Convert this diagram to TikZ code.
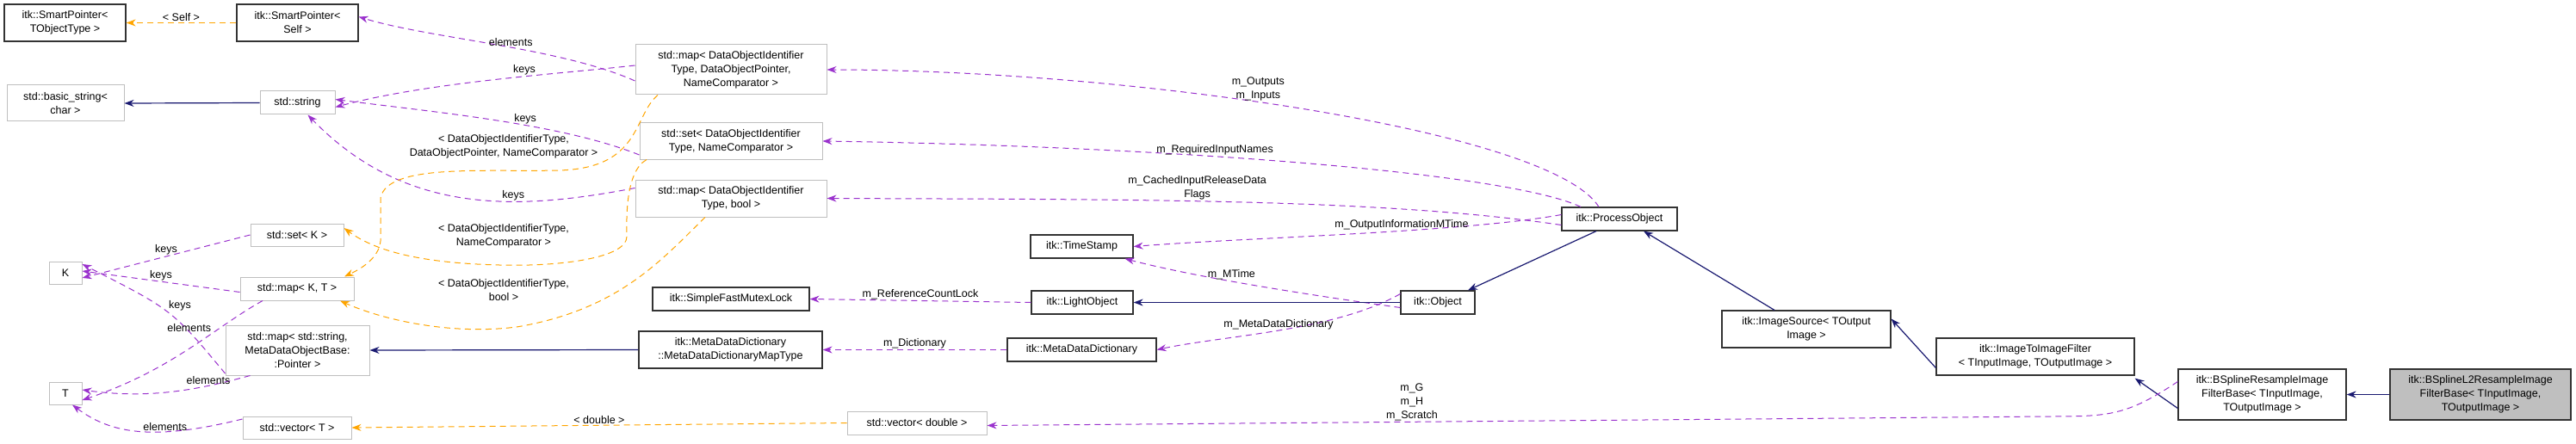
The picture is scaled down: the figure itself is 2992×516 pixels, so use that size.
\documentclass[tikz,border=0pt]{standalone}
\usepackage{fontspec}
\setmainfont{Liberation Sans}
\usetikzlibrary{arrows.meta}
\definecolor{pur}{HTML}{9A32CD}
\definecolor{org}{HTML}{FFA500}
\definecolor{nav}{HTML}{191970}
\begin{document}
\begin{tikzpicture}[x=1pt,y=-1pt,
  every node/.style={font=\fontsize{12.5}{16}\selectfont,align=center,inner sep=1pt},
  box/.style={draw=black!25,line width=1pt,fill=white},
  cls/.style={draw=black!80,line width=1.2pt,fill=white},
  dsh/.style={dash pattern=on 7pt off 5pt},
  mem/.style={draw=pur,dsh,line width=1pt,-{Stealth[length=11pt,width=8pt]}},
  tpl/.style={draw=org,dsh,line width=1pt,-{Stealth[length=11pt,width=8pt]}},
  inh/.style={draw=nav,line width=1.2pt,-{Stealth[length=11pt,width=8pt]}},
  lab/.style={fill=none}]
\useasboundingbox (0,0) rectangle (2992,516);
% nodes
\node[cls,minimum width=141,minimum height=43] (spt) at (75.5,26.5) {itk::SmartPointer<\\TObjectType >};
\node[cls,minimum width=141,minimum height=43] (sps) at (345.5,26.5) {itk::SmartPointer<\\Self >};
\node[box,minimum width=136,minimum height=42] (bs) at (76,120) {std::basic\_string<\\char >};
\node[box,minimum width=87,minimum height=27] (str) at (345.5,119.5) {std::string};
\node[box,minimum width=222,minimum height=58] (m1) at (849,81) {std::map< DataObjectIdentifier\\Type, DataObjectPointer,\\NameComparator >};
\node[box,minimum width=212,minimum height=42] (sd) at (849,164) {std::set< DataObjectIdentifier\\Type, NameComparator >};
\node[box,minimum width=222,minimum height=43] (mb) at (849,230.5) {std::map< DataObjectIdentifier\\Type, bool >};
\node[box,minimum width=108,minimum height=26] (sk) at (345,273) {std::set< K >};
\node[box,minimum width=38,minimum height=26] (K) at (76,317) {K};
\node[box,minimum width=132,minimum height=27] (mkt) at (345,335.5) {std::map< K, T >};
\node[box,minimum width=167,minimum height=58] (ms) at (345.5,407) {std::map< std::string,\\MetaDataObjectBase:\\:Pointer >};
\node[box,minimum width=38,minimum height=26] (T) at (76,457) {T};
\node[box,minimum width=126,minimum height=26] (vt) at (345,497) {std::vector< T >};
\node[cls,minimum width=182,minimum height=27] (mux) at (849,347.5) {itk::SimpleFastMutexLock};
\node[cls,minimum width=213,minimum height=43] (mt) at (848.5,406.5) {itk::MetaDataDictionary\\::MetaDataDictionaryMapType};
\node[cls,minimum width=119,minimum height=27] (ts) at (1256.5,286.5) {itk::TimeStamp};
\node[cls,minimum width=118,minimum height=27] (lo) at (1257,351.5) {itk::LightObject};
\node[cls,minimum width=173,minimum height=27] (mdd) at (1256.5,406.5) {itk::MetaDataDictionary};
\node[box,minimum width=162,minimum height=27] (vd) at (1065,491.5) {std::vector< double >};
\node[cls,minimum width=134,minimum height=27] (po) at (1881,254.5) {itk::ProcessObject};
\node[cls,minimum width=86,minimum height=27] (ob) at (1670,351.5) {itk::Object};
\node[cls,minimum width=196,minimum height=43] (is) at (2098,382.5) {itk::ImageSource< TOutput\\Image >};
\node[cls,minimum width=230,minimum height=43] (i2i) at (2364,414.5) {itk::ImageToImageFilter\\< TInputImage, TOutputImage >};
\node[cls,minimum width=195,minimum height=59] (bsr) at (2627.5,458.5) {itk::BSplineResampleImage\\FilterBase< TInputImage,\\TOutputImage >};
\node[cls,fill=black!25,minimum width=210,minimum height=59] (bl2) at (2881,458.5) {itk::BSplineL2ResampleImage\\FilterBase< TInputImage,\\TOutputImage >};
% edges
\draw[tpl] (sps.west) -- node[lab,above] {< Self >} (spt.east);
\draw[mem] ([yshift=-13]m1.west) .. controls (650,55) and (500,45) .. node[lab,pos=.45,above] {elements} ([yshift=7]sps.east);
\draw[mem] ([yshift=5]m1.west) .. controls (650,86) and (500,95) .. node[lab,pos=.4,above] {keys} ([yshift=-5]str.east);
\draw[mem] ([yshift=-16]sd.west) .. controls (650,143) and (500,130) .. node[lab,pos=.4,above] {keys} ([yshift=4]str.east);
\draw[mem] ([yshift=12]mb.west) .. controls (600,245) and (470,250) .. node[lab,pos=.35,above] {keys} ([xshift=12]str.south);
\draw[inh] (str.west) -- (bs.east);
\draw[tpl] ([xshift=-85]m1.south) .. controls (735,135) and (745,195) .. (650,198) .. controls (560,200) and (450,190) .. (442,230) -- (442,280) .. controls (440,300) and (420,312) .. ([xshift=55]mkt.north);
\node[lab] at (585,170) {< DataObjectIdentifierType,\\DataObjectPointer, NameComparator >};
\draw[tpl] ([xshift=-98]sd.south) .. controls (725,200) and (728,260) .. (728,275) .. controls (728,300) and (650,310) .. (580,308) .. controls (500,306) and (440,295) .. ([yshift=8]sk.east);
\node[lab] at (585,274) {< DataObjectIdentifierType,\\NameComparator >};
\draw[tpl] ([xshift=-30]mb.south) .. controls (770,300) and (720,360) .. (600,380) .. controls (520,390) and (440,370) .. ([xshift=50]mkt.south);
\node[lab] at (585,337) {< DataObjectIdentifierType,\\bool >};
\draw[mem] (sk.west) -- node[lab,above] {keys} ([yshift=-6]K.east);
\draw[mem] ([yshift=-4]mkt.west) -- node[lab,above] {keys} ([yshift=2]K.east);
\draw[mem] ([yshift=-27]ms.west) .. controls (200,360) .. node[lab,pos=.5,above right] {keys} ([yshift=10]K.east);
\draw[mem] ([xshift=-40]mkt.south) .. controls (250,380) and (200,430) .. node[lab,pos=.35,above left] {elements} ([yshift=-8]T.east);
\draw[mem] ([xshift=-55]ms.south) .. controls (240,450) and (180,465) .. node[lab,pos=.3,above] {elements} ([yshift=4]T.east);
\draw[mem] ([yshift=10]vt.west) .. controls (180,512) and (130,505) .. node[lab,pos=.35,above] {elements} ([xshift=8]T.south);
\draw[inh] (mt.west) -- (ms.east);
\draw[tpl] (vd.west) -- node[lab,above] {< double >} (vt.east);
\draw[mem] ([xshift=-24]po.north) .. controls (1800,150) and (1300,81) .. node[lab,pos=.55,above] {m\_Outputs\\m\_Inputs} (m1.east);
\draw[mem] ([xshift=-45]po.north) .. controls (1750,200) and (1350,170) .. node[lab,pos=.6,above] {m\_RequiredInputNames} (sd.east);
\draw[mem] ([yshift=-7]po.west) .. controls (1600,230) and (1300,232) .. node[lab,pos=.55,above] {m\_CachedInputReleaseData\\Flags} (mb.east);
\draw[mem] ([yshift=5]po.west) .. controls (1700,270) and (1450,276) .. node[lab,pos=.4,above] {m\_OutputInformationMTime} (ts.east);
\draw[mem] ([yshift=-6]ob.west) .. controls (1500,340) and (1380,320) .. node[lab,pos=.55,above] {m\_MTime} ([xshift=50]ts.south);
\draw[inh] (ob.west) -- (lo.east);
\draw[mem] ([yshift=10]ob.west) .. controls (1550,385) and (1420,390) .. node[lab,pos=.5,above] {m\_MetaDataDictionary} (mdd.east);
\draw[mem] (lo.west) -- node[lab,above] {m\_ReferenceCountLock} (mux.east);
\draw[mem] (mdd.west) -- node[lab,above] {m\_Dictionary} (mt.east);
\draw[inh] ([xshift=-27]po.south) -- ([xshift=35]ob.north);
\draw[inh] ([xshift=-37]is.north) -- ([xshift=28]po.south);
\draw[inh] ([yshift=-13]i2i.west) -- ([yshift=12]is.east);
\draw[inh] ([yshift=-16]bsr.west) -- ([yshift=-3]i2i.south east);
\draw[inh] (bl2.west) -- (bsr.east);
\draw[mem] ([yshift=15]bsr.west) .. controls (2470,483) and (2450,484) .. (2380,484) -- node[lab,pos=.6,above] {m\_G\\m\_H\\m\_Scratch} ([yshift=-3]vd.east);
\end{tikzpicture}
\end{document}
